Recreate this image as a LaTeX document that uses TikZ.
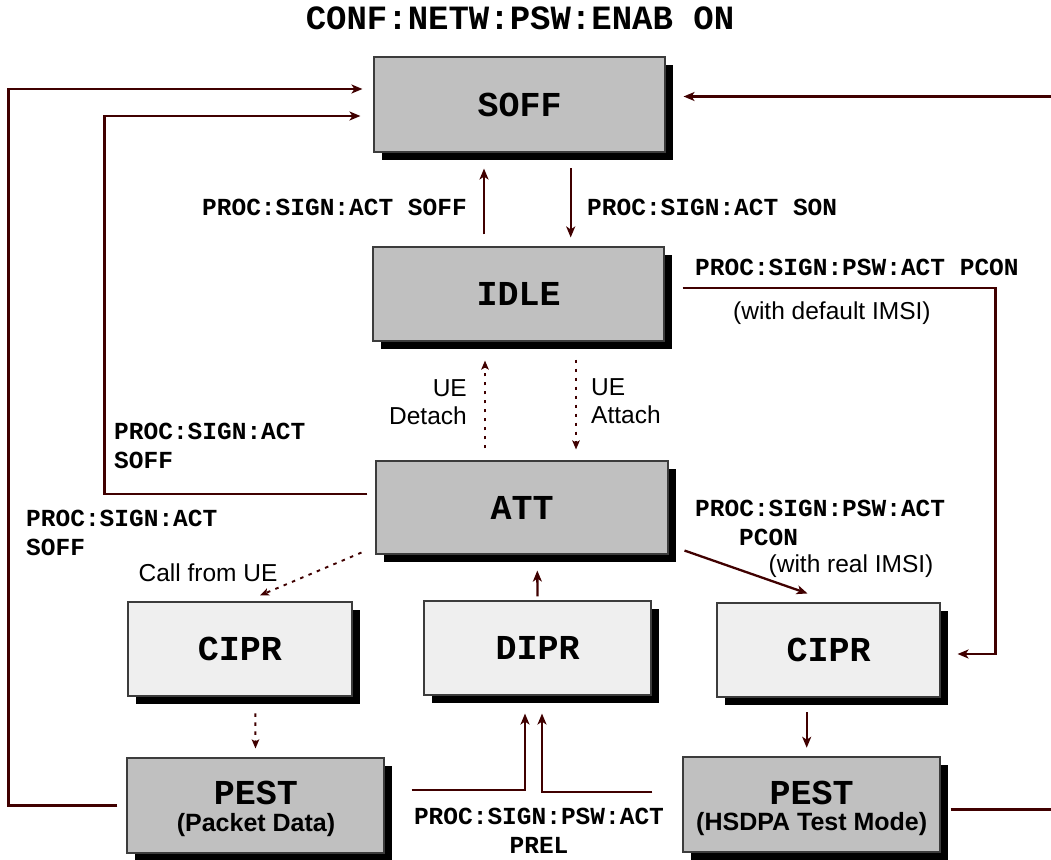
\documentclass[tikz,border=0pt]{standalone}
\usepackage{fontspec}
\setmainfont{Liberation Sans}
\newfontfamily\cour{Liberation Mono}
\usetikzlibrary{calc,arrows.meta,shadows}
\definecolor{wire}{RGB}{64,0,0}
\definecolor{boxdark}{RGB}{192,192,192}
\definecolor{boxlight}{RGB}{239,239,239}
\definecolor{boxedge}{RGB}{60,60,60}
\tikzset{
  boxfont/.style={font=\cour\bfseries\fontsize{35}{35}\selectfont},
  statebox/.style={draw=boxedge, line width=1.1pt, inner sep=0pt,
    minimum width=#1, minimum height=94pt, boxfont,
    drop shadow={shadow xshift=7.5pt, shadow yshift=-8pt, fill=black, opacity=1}},
  darkbox/.style={statebox=#1, fill=boxdark},
  lightbox/.style={statebox=#1, fill=boxlight},
  cmd/.style={font=\cour\bfseries\fontsize{24.5}{28.5}\selectfont, inner sep=0pt},
  note/.style={font=\fontsize{24.5}{28.5}\selectfont, inner sep=0pt},
  subnote/.style={font=\bfseries\fontsize{25}{25}\selectfont, inner sep=0pt},
  arr/.style={draw=wire, line width=2.3pt, -{Stealth[length=11pt,width=9pt,inset=3pt]}},
  darr/.style={draw=wire, line width=1.9pt, dash pattern=on 3.5pt off 5.5pt,
    -{Stealth[length=9pt,width=7.5pt,inset=2pt]}},
}
\begin{document}
\begin{tikzpicture}[x=1pt,y=-1pt]
\clip (0,0) rectangle (1051,859);

% heading
\node[cmd, font=\cour\bfseries\fontsize{34}{34}\selectfont] (title) at (520,18) {CONF:NETW:PSW:ENAB ON};

% states
\node[darkbox=291pt, minimum height=95pt] (soff) at (519.5,104.5) {SOFF};
\node[darkbox=291pt] (idle) at (518.5,294) {IDLE};
\node[darkbox=292pt, minimum height=93pt] (att) at (522,507.5) {ATT};
\node[lightbox=224pt] (cipra) at (240,649) {CIPR};
\node[lightbox=227pt] (dipr) at (537.5,648) {DIPR};
\node[lightbox=223pt] (ciprb) at (828.5,650) {CIPR};
\node[darkbox=257pt, minimum height=95pt] (pesta) at (255.5,805.5) {};
\node[darkbox=257pt, minimum height=95pt] (pestb) at (811.5,804.5) {};
\node[boxfont, inner sep=0pt] (pestaT) at (256,793) {PEST};
\node[subnote] (pestaS) at (256,825) {(Packet Data)};
\node[boxfont, inner sep=0pt] (pestbT) at (811.7,792.7) {PEST};
\node[subnote] (pestbS) at (811.7,824.3) {(HSDPA Test Mode)};

% command and event labels
\node[cmd, anchor=east] (lsoff) at (467,207) {PROC:SIGN:ACT SOFF};
\node[cmd, anchor=west] (lson) at (587,207) {PROC:SIGN:ACT SON};
\node[cmd, anchor=west] (lpcon) at (695,267) {PROC:SIGN:PSW:ACT PCON};
\node[note, anchor=west] (ldef) at (733,313) {(with default IMSI)};
\node[cmd, anchor=west, align=left] (linner) at (114,446) {PROC:SIGN:ACT\\SOFF};
\node[cmd, anchor=west, align=left] (louter) at (26,533) {PROC:SIGN:ACT\\SOFF};
\node[note] (lcall) at (208,573) {Call from UE};
\node[note, anchor=east, align=right] (ldetach) at (467,402) {UE\\Detach};
\node[note, anchor=west, align=left] (lattach) at (591,401) {UE\\Attach};
\node[cmd, anchor=west, align=left] (lpcon2) at (695,523) {PROC:SIGN:PSW:ACT\\\hspace*{44pt}PCON};
\node[note] (lreal) at (851,566) {(with real IMSI)};
\node[cmd, align=center] (lprel) at (539,831) {PROC:SIGN:PSW:ACT\\PREL};

% transitions
\draw[arr] ($(idle.north)+(-34.5,-12)$) -- ($(soff.south)+(-35.5,16)$);
\draw[arr] ($(soff.south)+(51.2,15.7)$) -- ($(idle.north)+(52.2,-9)$);
\draw[darr] ($(idle.south)+(57.5,18)$) -- ($(att.north)+(54,-11)$);
\draw[darr] ($(att.north)+(-37,-12)$) -- ($(idle.south)+(-33.5,19)$);
\draw[arr] ($(att.west)+(-8,-13.5)$) -- ++(-263,0) |- ($(soff.west)+(-13,11.5)$);
\draw[arr] ($(pesta.west)+(-9,0)$) -- ++(-109,0) |- ($(soff.west)+(-11,-15.5)$);
\draw[arr] ($(pestb.east)+(10,5)$) -- ++(120,0) |- ($(soff.east)+(18,-8)$);
\draw[arr] ($(idle.east)+(18,-6)$) -- ++(313,0) |- ($(ciprb.east)+(17,4)$);
\draw[darr] ($(att.south west)+(-14,-2)$) -- ($(cipra.north)+(20,-6)$);
\draw[arr] ($(att.south east)+(16,-4)$) -- ($(ciprb.north)+(-21,-9)$);
\draw[arr] ($(dipr.north)+(0,-4)$) -- ($(att.south)+(15.3,16)$);
\draw[darr] ($(cipra.south)+(15.3,16.7)$) -- ($(pesta.north)+(0,-9)$);
\draw[arr] ($(ciprb.south)+(-21.8,14.7)$) -- ($(pestb.north)+(-4.8,-8.7)$);
\draw[arr] ($(pesta.east)+(27,-15.5)$) -| ($(dipr.south)+(-12.5,18)$);
\draw[arr] ($(pestb.west)+(-30,-12.5)$) -| ($(dipr.south)+(4.5,18)$);
\end{tikzpicture}
\end{document}
